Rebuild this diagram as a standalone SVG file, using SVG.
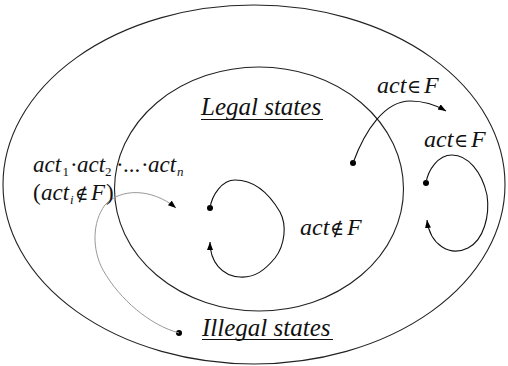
<svg xmlns="http://www.w3.org/2000/svg" width="508" height="366" viewBox="0 0 508 366">
<style>
.region{fill:none;stroke:#222;stroke-width:1.1}
.edge{fill:none;stroke:#111;stroke-width:1.1}
.gray{fill:none;stroke:#999;stroke-width:1}
.t{font-family:'Liberation Serif','Times New Roman',Tinos,'DejaVu Serif',serif;font-style:italic;fill:#111}
.n{font-style:normal}
.sym{font-style:normal;font-family:'DejaVu Serif','Liberation Serif',serif}
.dot{fill:#000}
.ul{stroke:#111;stroke-width:1.2}
</style>
<defs>
<marker id="ah" markerUnits="userSpaceOnUse" markerWidth="10" markerHeight="8" refX="8" refY="3" orient="auto">
<path d="M0,0 L8,3 L0,6 z" fill="#000"/>
</marker>
</defs>
<rect width="508" height="366" fill="#fff"/>
<g id="illegal-region">
<ellipse class="region" cx="254" cy="184.5" rx="251" ry="179.5"/>
</g>
<g id="legal-region">
<ellipse class="region" cx="259" cy="189" rx="144.5" ry="122"/>
</g>
<g id="legal-label">
<text class="t" x="201" y="115" font-size="25">Legal states</text>
<line class="ul" x1="201" y1="119.5" x2="323" y2="119.5"/>
</g>
<g id="illegal-label">
<text class="t" x="202" y="336" font-size="25">Illegal states</text>
<line class="ul" x1="202" y1="339.5" x2="333" y2="339.5"/>
</g>
<g id="dots">
<circle class="dot" cx="353" cy="163" r="3"/>
<circle class="dot" cx="210" cy="208" r="3"/>
<circle class="dot" cx="426" cy="183" r="3"/>
<circle class="dot" cx="179" cy="333" r="3"/>
</g>
<g id="connectors">
<path class="edge" d="M353,163 C365,130 385,101 410,101 C425,101 436,105 446,111" marker-end="url(#ah)"/>
<path class="gray" d="M179,333 C150,325 120,300 103,270 C92,250 92,222 105,205 C120,188 152,188 176,208" marker-end="url(#ah)"/>
<path class="edge" d="M210,208 C212,195 222,180 235,180 C255,180 270,195 280,212 C287,225 285,245 275,258 C265,270 255,278 240,277 C222,276 210,262 210,242" marker-end="url(#ah)"/>
<path class="edge" d="M426,183 C428,170 438,155 452,155 C468,155 482,172 487,195 C490,215 484,240 468,248 C450,257 430,245 427,220" marker-end="url(#ah)"/>
</g>
<g id="labels">
<text class="t" font-size="24" y="93"><tspan x="377">act</tspan><tspan class="sym" x="407" font-size="19">∈</tspan><tspan x="424">F</tspan></text>
<text class="t" font-size="24" y="147"><tspan x="424">act</tspan><tspan class="sym" x="454" font-size="19">∈</tspan><tspan x="471">F</tspan></text>
<text class="t" font-size="24" y="235"><tspan x="300">act</tspan><tspan class="sym" x="330" font-size="19">∉</tspan><tspan x="347">F</tspan></text>
<text class="t" font-size="23" y="172"><tspan x="33">act</tspan><tspan class="n" x="62.5" y="176" font-size="13">1</tspan><tspan class="n" x="70" y="172">·</tspan><tspan x="77" y="172">act</tspan><tspan class="n" x="105" y="176" font-size="13">2</tspan><tspan class="n" x="116" y="172">·</tspan><tspan class="n" x="123" y="172">...</tspan><tspan class="n" x="141" y="172">·</tspan><tspan x="148" y="172">act</tspan><tspan x="177" y="176" font-size="13">n</tspan></text>
<text class="t" font-size="23" y="200"><tspan class="n" x="33">(</tspan><tspan x="41" y="200">act</tspan><tspan x="70" y="204" font-size="13">i</tspan><tspan class="sym" x="75" y="200" font-size="18">∉</tspan><tspan x="91" y="200">F</tspan><tspan class="n" x="106" y="200">)</tspan></text>
</g>
</svg>
